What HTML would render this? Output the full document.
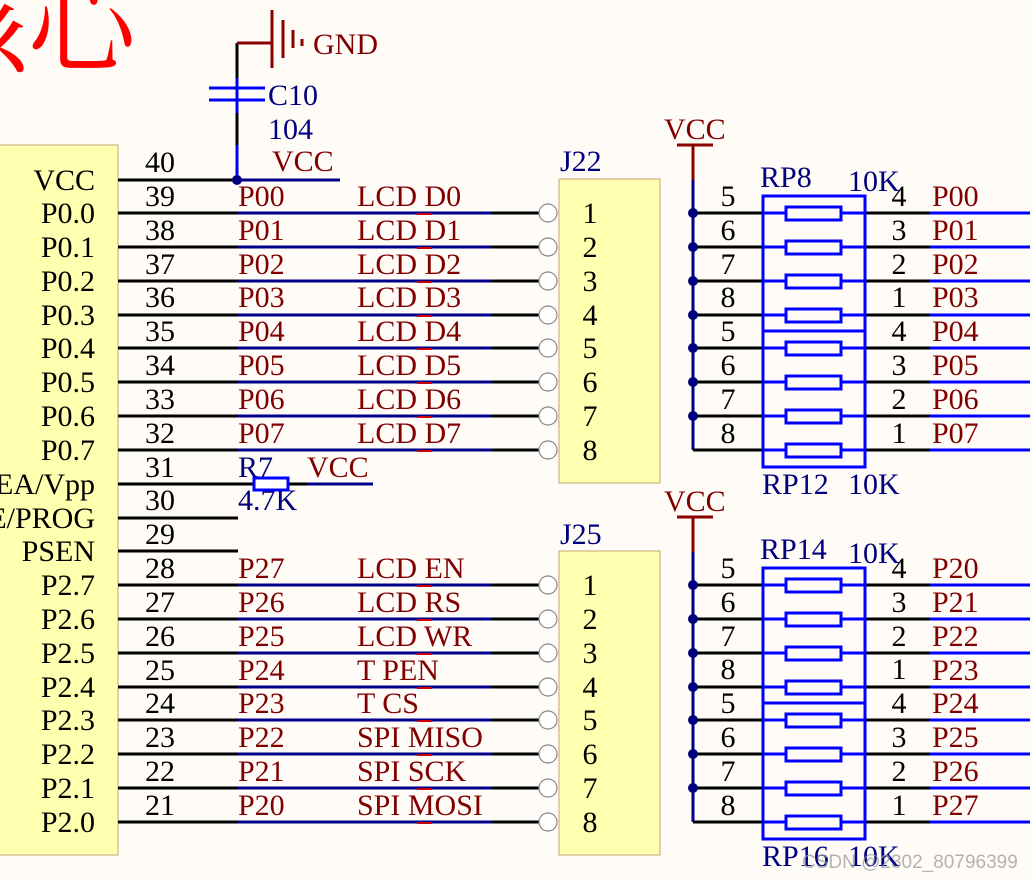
<!DOCTYPE html>
<html><head><meta charset="utf-8"><style>
html,body{margin:0;padding:0;background:#fffcf8;}
svg{display:block;font-family:"Liberation Serif","Noto Serif CJK SC",serif;}
.k{fill:#000;font-size:30px}
.r{fill:#800000;font-size:30px}
.b{fill:#00007f;font-size:30px}
</style></head><body>
<svg width="1031" height="880" viewBox="0 0 1031 880" xmlns="http://www.w3.org/2000/svg">
<rect width="1031" height="880" fill="#fffcf8"/>
<text x="-80" y="64" font-size="108" fill="#ff0000" font-family="Noto Serif CJK SC,serif">核心</text>
<defs>
<g id="row">
<line x1="118" y1="0" x2="238" y2="0" stroke="#000" stroke-width="3"/>
<line x1="238" y1="0" x2="492" y2="0" stroke="#00008b" stroke-width="3"/>
<line x1="492" y1="0" x2="540" y2="0" stroke="#000" stroke-width="3"/>
<line x1="417" y1="1" x2="432" y2="1" stroke="#c00" stroke-width="2"/>
<circle cx="548" cy="0" r="9" fill="#fff" stroke="#888" stroke-width="1.2"/>
</g>
<g id="rr">
<line x1="693" y1="0" x2="762" y2="0" stroke="#000" stroke-width="3"/>
<line x1="762" y1="0" x2="786" y2="0" stroke="#0000ff" stroke-width="3"/>
<rect x="786" y="-6" width="55" height="13" fill="none" stroke="#0000ff" stroke-width="3"/>
<line x1="841" y1="0" x2="865" y2="0" stroke="#0000ff" stroke-width="3"/>
<line x1="865" y1="0" x2="930" y2="0" stroke="#000" stroke-width="3"/>
<line x1="930" y1="0" x2="1030" y2="0" stroke="#0000ff" stroke-width="3"/>
</g>
<g id="rgroup">
<line x1="693" y1="180" x2="693" y2="450" stroke="#00008b" stroke-width="3"/>
<line x1="693" y1="145" x2="693" y2="180" stroke="#8b0000" stroke-width="3"/>
<line x1="677" y1="145" x2="713" y2="145" stroke="#8b0000" stroke-width="3"/>
<use href="#rr" y="213"/><use href="#rr" y="247"/><use href="#rr" y="281"/><use href="#rr" y="315"/>
<use href="#rr" y="348"/><use href="#rr" y="382"/><use href="#rr" y="416"/><use href="#rr" y="450"/>
<circle cx="693" cy="213" r="5" fill="#00007f"/><circle cx="693" cy="247" r="5" fill="#00007f"/>
<circle cx="693" cy="281" r="5" fill="#00007f"/><circle cx="693" cy="315" r="5" fill="#00007f"/>
<circle cx="693" cy="348" r="5" fill="#00007f"/><circle cx="693" cy="382" r="5" fill="#00007f"/>
<circle cx="693" cy="416" r="5" fill="#00007f"/>
<rect x="763" y="196" width="102" height="271" fill="none" stroke="#0000ff" stroke-width="3"/>
<line x1="763" y1="331" x2="865" y2="331" stroke="#0000ff" stroke-width="3"/>
<rect x="559" y="179" width="101" height="304" fill="#ffffb0" stroke="#c8a070" stroke-width="1"/>
<g class="k" text-anchor="middle">
<text x="590" y="223">1</text><text x="590" y="257">2</text><text x="590" y="291">3</text><text x="590" y="325">4</text>
<text x="590" y="358">5</text><text x="590" y="392">6</text><text x="590" y="426">7</text><text x="590" y="460">8</text>
<text x="728" y="206">5</text><text x="728" y="240">6</text><text x="728" y="274">7</text><text x="728" y="307">8</text>
<text x="728" y="341">5</text><text x="728" y="375">6</text><text x="728" y="409">7</text><text x="728" y="443">8</text>
<text x="899" y="206">4</text><text x="899" y="240">3</text><text x="899" y="274">2</text><text x="899" y="307">1</text>
<text x="899" y="341">4</text><text x="899" y="375">3</text><text x="899" y="409">2</text><text x="899" y="443">1</text>
</g>
</g>
</defs>
<rect x="-2" y="145" width="120" height="710" fill="#ffffb0" stroke="#c8a070" stroke-width="1"/>
<line x1="237" y1="43" x2="237" y2="78" stroke="#000" stroke-width="3"/>
<line x1="237" y1="43" x2="272" y2="43" stroke="#8b0000" stroke-width="3"/>
<line x1="272" y1="10" x2="272" y2="68" stroke="#8b0000" stroke-width="3"/>
<line x1="283" y1="20" x2="283" y2="58" stroke="#8b0000" stroke-width="3"/>
<line x1="293" y1="30" x2="293" y2="48" stroke="#8b0000" stroke-width="3"/>
<line x1="302" y1="39" x2="302" y2="46" stroke="#8b0000" stroke-width="3"/>
<text x="313" y="54" class="r">GND</text>
<line x1="237" y1="78" x2="237" y2="113" stroke="#0000ff" stroke-width="3"/>
<line x1="209" y1="88" x2="265" y2="88" stroke="#0000ff" stroke-width="3"/>
<line x1="209" y1="100" x2="265" y2="100" stroke="#0000ff" stroke-width="3"/>
<line x1="237" y1="113" x2="237" y2="145" stroke="#000" stroke-width="3"/>
<line x1="237" y1="145" x2="237" y2="180" stroke="#0000ff" stroke-width="3"/>
<text x="268" y="105" class="b">C10</text>
<text x="268" y="139" class="b">104</text>
<line x1="118" y1="180" x2="237" y2="180" stroke="#000" stroke-width="3"/>
<line x1="237" y1="180" x2="340" y2="180" stroke="#00008b" stroke-width="3"/>
<circle cx="237" cy="180" r="5" fill="#00007f"/>
<text x="272" y="171" class="r">VCC</text>
<use href="#row" y="213"/><use href="#row" y="247"/><use href="#row" y="281"/><use href="#row" y="315"/>
<use href="#row" y="348"/><use href="#row" y="382"/><use href="#row" y="416"/><use href="#row" y="450"/>
<use href="#row" y="585"/><use href="#row" y="619"/><use href="#row" y="653"/><use href="#row" y="687"/>
<use href="#row" y="720"/><use href="#row" y="754"/><use href="#row" y="788"/><use href="#row" y="822"/>
<line x1="118" y1="484" x2="254" y2="484" stroke="#000" stroke-width="3"/>
<line x1="288" y1="484" x2="307" y2="484" stroke="#000" stroke-width="3"/>
<line x1="307" y1="484" x2="373" y2="484" stroke="#00008b" stroke-width="3"/>
<text x="238" y="477" class="b">R7</text><text x="307" y="477" class="r">VCC</text>
<text x="238" y="510" class="b">4.7K</text>
<rect x="254" y="478" width="34" height="12" fill="#fff" stroke="#0000ff" stroke-width="3"/>
<line x1="118" y1="518" x2="238" y2="518" stroke="#000" stroke-width="3"/>
<line x1="118" y1="551" x2="238" y2="551" stroke="#000" stroke-width="3"/>
<g class="k" text-anchor="end">
<text x="95" y="190">VCC</text><text x="95" y="223">P0.0</text><text x="95" y="257">P0.1</text><text x="95" y="291">P0.2</text>
<text x="95" y="325">P0.3</text><text x="95" y="358">P0.4</text><text x="95" y="392">P0.5</text><text x="95" y="426">P0.6</text>
<text x="95" y="460">P0.7</text><text x="95" y="494">EA/Vpp</text><text x="95" y="528">E/PROG</text><text x="95" y="561">PSEN</text>
<text x="95" y="595">P2.7</text><text x="95" y="629">P2.6</text><text x="95" y="663">P2.5</text><text x="95" y="697">P2.4</text>
<text x="95" y="730">P2.3</text><text x="95" y="764">P2.2</text><text x="95" y="798">P2.1</text><text x="95" y="832">P2.0</text>
</g>
<g class="k">
<text x="145" y="172">40</text><text x="145" y="206">39</text><text x="145" y="240">38</text><text x="145" y="274">37</text>
<text x="145" y="307">36</text><text x="145" y="341">35</text><text x="145" y="375">34</text><text x="145" y="409">33</text>
<text x="145" y="443">32</text><text x="145" y="477">31</text><text x="145" y="510">30</text><text x="145" y="544">29</text>
<text x="145" y="578">28</text><text x="145" y="612">27</text><text x="145" y="646">26</text><text x="145" y="680">25</text>
<text x="145" y="713">24</text><text x="145" y="747">23</text><text x="145" y="781">22</text><text x="145" y="815">21</text>
</g>
<g class="r">
<text x="238" y="206">P00</text><text x="238" y="240">P01</text><text x="238" y="274">P02</text><text x="238" y="307">P03</text>
<text x="238" y="341">P04</text><text x="238" y="375">P05</text><text x="238" y="409">P06</text><text x="238" y="443">P07</text>
<text x="238" y="578">P27</text><text x="238" y="612">P26</text><text x="238" y="646">P25</text><text x="238" y="680">P24</text>
<text x="238" y="713">P23</text><text x="238" y="747">P22</text><text x="238" y="781">P21</text><text x="238" y="815">P20</text>
<text x="357" y="206">LCD D0</text><text x="357" y="240">LCD D1</text><text x="357" y="274">LCD D2</text><text x="357" y="307">LCD D3</text>
<text x="357" y="341">LCD D4</text><text x="357" y="375">LCD D5</text><text x="357" y="409">LCD D6</text><text x="357" y="443">LCD D7</text>
<text x="357" y="578">LCD EN</text><text x="357" y="612">LCD RS</text><text x="357" y="646">LCD WR</text><text x="357" y="680">T PEN</text>
<text x="357" y="713">T CS</text><text x="357" y="747">SPI MISO</text><text x="357" y="781">SPI SCK</text><text x="357" y="815">SPI MOSI</text>
</g>
<use href="#rgroup"/>
<use href="#rgroup" y="372"/>
<text x="560" y="171" class="b">J22</text><text x="560" y="544" class="b">J25</text>
<text x="664" y="139" class="r">VCC</text><text x="664" y="511" class="r">VCC</text>
<text x="760" y="187" class="b">RP8</text><text x="848" y="191" class="b">10K</text>
<text x="762" y="494" class="b">RP12</text><text x="848" y="494" class="b">10K</text>
<text x="760" y="559" class="b">RP14</text><text x="848" y="563" class="b">10K</text>
<text x="762" y="866" class="b">RP16</text><text x="848" y="866" class="b">10K</text>
<g class="r">
<text x="932" y="206">P00</text><text x="932" y="240">P01</text><text x="932" y="274">P02</text><text x="932" y="307">P03</text>
<text x="932" y="341">P04</text><text x="932" y="375">P05</text><text x="932" y="409">P06</text><text x="932" y="443">P07</text>
<text x="932" y="578">P20</text><text x="932" y="612">P21</text><text x="932" y="646">P22</text><text x="932" y="680">P23</text>
<text x="932" y="713">P24</text><text x="932" y="747">P25</text><text x="932" y="781">P26</text><text x="932" y="815">P27</text>
</g>
<text x="802" y="868" font-family="Liberation Sans,sans-serif" font-size="19" fill="#999" fill-opacity="0.75">CSDN @2302_80796399</text>
</svg>
</body></html>
